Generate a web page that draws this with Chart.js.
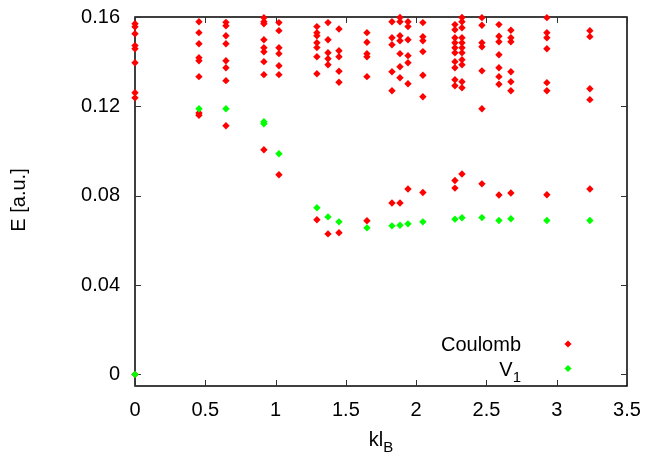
<!DOCTYPE html>
<html>
<head>
<meta charset="utf-8">
<script src="https://cdn.jsdelivr.net/npm/chart.js@4"></script>
<style>
  html, body { margin: 0; padding: 0; background: #fff; }
  #wrap { width: 648px; height: 459px; }
</style>
</head>
<body>
<div id="wrap"><canvas id="spectrum" width="648" height="459"></canvas></div>
<script>
// momenta of the columns (kl_B)
const kColumns = [0, 0.455, 0.647, 0.917, 1.024, 1.294, 1.373, 1.451, 1.650, 1.828,
    1.885, 1.942, 2.048, 2.276, 2.326, 2.468, 2.589, 2.674, 2.930, 3.236];

// Coulomb energies per column
const coulombLevels = [
    [0, 0.1570, 0.1556, 0.1525, 0.1472, 0.1458, 0.1395, 0.1261, 0.1238],
    [0.1579, 0.1530, 0.1480, 0.1418, 0.1404, 0.1333, 0.1170, 0.1160],
    [0.1576, 0.1561, 0.1516, 0.1480, 0.1404, 0.1373, 0.1315, 0.1113],
    [0.1597, 0.1579, 0.1570, 0.1498, 0.1462, 0.1444, 0.1400, 0.1342, 0.1006],
    [0.1575, 0.1539, 0.1462, 0.1436, 0.1382, 0.1342, 0.0894],
    [0.1557, 0.1530, 0.1516, 0.1485, 0.1463, 0.1422, 0.1346, 0.0692],
    [0.1575, 0.1498, 0.1440, 0.1413, 0.1386, 0.0629],
    [0.1546, 0.1449, 0.1422, 0.1357, 0.1308, 0.0634],
    [0.1530, 0.1487, 0.1436, 0.1422, 0.1333, 0.0688],
    [0.1579, 0.1507, 0.1476, 0.1355, 0.1270, 0.0767],
    [0.1598, 0.1579, 0.1516, 0.1494, 0.1436, 0.1377, 0.1328, 0.0767],
    [0.1579, 0.1557, 0.1498, 0.1427, 0.1395, 0.1301, 0.0830],
    [0.1575, 0.1512, 0.1494, 0.1445, 0.1339, 0.1243, 0.0814],
    [0.1566, 0.1543, 0.1507, 0.1485, 0.1462, 0.1440, 0.1400, 0.1373, 0.1319, 0.1292, 0.0868, 0.0834],
    [0.1598, 0.1579, 0.1552, 0.1507, 0.1485, 0.1462, 0.1440, 0.1409, 0.1386, 0.1310, 0.1283, 0.0897],
    [0.1597, 0.1563, 0.1485, 0.1467, 0.1359, 0.1189, 0.0853],
    [0.1566, 0.1514, 0.1489, 0.1431, 0.1373, 0.1333, 0.1299, 0.0803],
    [0.1541, 0.1507, 0.1489, 0.1355, 0.1310, 0.1270, 0.0812],
    [0.1597, 0.1530, 0.1507, 0.1458, 0.1306, 0.1270, 0.0804],
    [0.1539, 0.1512, 0.1279, 0.1230, 0.0830]
];

// V1 energies per column
const v1Levels = [
    [0], [0.1189], [0.1189], [0.1131, 0.1122], [0.0988], [0.0746], [0.0705], [0.0683],
    [0.0656], [0.0665], [0.0668], [0.0674], [0.0683], [0.0695], [0.0701], [0.0702],
    [0.0689], [0.0697], [0.0689], [0.0689]
];

const xTicks = [0, 0.5, 1, 1.5, 2, 2.5, 3, 3.5];
const yTicks = [0, 0.04, 0.08, 0.12, 0.16];

const FONT = '"Liberation Sans", Arial, Helvetica, sans-serif';

function toPoints(levels) {
    const pts = [];
    levels.forEach((col, i) => {
        col.forEach(e => pts.push({ x: kColumns[i], y: e }));
    });
    return pts;
}

// gnuplot-like frame with inward ticks on all four sides
const framePlugin = {
    id: 'frame',
    beforeDatasetsDraw(chart) {
        const { ctx, chartArea: a, scales } = chart;
        ctx.save();
        ctx.strokeStyle = '#000';
        ctx.lineWidth = 1.5;
        ctx.strokeRect(a.left, a.top, a.right - a.left, a.bottom - a.top);
        ctx.lineWidth = 1;
        ctx.strokeStyle = '#333';
        ctx.beginPath();
        xTicks.forEach(v => {
            const px = Math.round(scales.x.getPixelForValue(v)) + 0.5;
            ctx.moveTo(px, a.bottom); ctx.lineTo(px, a.bottom - 6);
            ctx.moveTo(px, a.top); ctx.lineTo(px, a.top + 6);
        });
        yTicks.forEach(v => {
            const py = Math.round(scales.y.getPixelForValue(v)) + 0.5;
            ctx.moveTo(a.left, py); ctx.lineTo(a.left + 6, py);
            ctx.moveTo(a.right, py); ctx.lineTo(a.right - 6, py);
        });
        ctx.stroke();
        ctx.restore();
    }
};

// axis titles with subscripts + legend drawn gnuplot style (text, then sample)
const labelsPlugin = {
    id: 'labels',
    afterDraw(chart) {
        const { ctx } = chart;
        ctx.save();
        ctx.fillStyle = '#000';
        ctx.textBaseline = 'alphabetic';

        // y title
        ctx.save();
        ctx.translate(25, 200);
        ctx.rotate(-Math.PI / 2);
        ctx.textAlign = 'center';
        ctx.font = '20px ' + FONT;
        ctx.fillText('E [a.u.]', 0, 0);
        ctx.restore();

        // x title: kl_B
        ctx.font = '20px ' + FONT;
        ctx.textAlign = 'left';
        const w1 = ctx.measureText('kl').width;
        ctx.font = '15px ' + FONT;
        const w2 = ctx.measureText('B').width;
        const x0 = 381 - (w1 + w2) / 2;
        ctx.font = '20px ' + FONT;
        ctx.fillText('kl', x0, 446);
        ctx.font = '15px ' + FONT;
        ctx.fillText('B', x0 + w1, 452);

        // legend
        const rows = [
            { y: 344, color: chart.data.datasets[1].backgroundColor, main: 'Coulomb', sub: '' },
            { y: 368.5, color: chart.data.datasets[0].backgroundColor, main: 'V', sub: '1' }
        ];
        rows.forEach(r => {
            ctx.font = '15px ' + FONT;
            const ws = r.sub ? ctx.measureText(r.sub).width : 0;
            ctx.font = '20px ' + FONT;
            const wm = ctx.measureText(r.main).width;
            const right = 521;
            ctx.fillText(r.main, right - ws - wm, r.y + 7);
            if (r.sub) {
                ctx.font = '15px ' + FONT;
                ctx.fillText(r.sub, right - ws, r.y + 13);
            }
            ctx.fillStyle = r.color;
            ctx.beginPath();
            ctx.moveTo(568, r.y - 3.6);
            ctx.lineTo(571.6, r.y);
            ctx.lineTo(568, r.y + 3.6);
            ctx.lineTo(564.4, r.y);
            ctx.closePath();
            ctx.fill();
            ctx.fillStyle = '#000';
        });
        ctx.restore();
    }
};

const ctx = document.getElementById('spectrum').getContext('2d');
new Chart(ctx, {
    type: 'scatter',
    data: {
        datasets: [{
            label: 'V1',
            data: toPoints(v1Levels),
            backgroundColor: '#00ff00',
            borderColor: '#00ff00',
            pointStyle: 'rectRot',
            pointRadius: 3.7,
            borderWidth: 0,
            clip: false,
            order: 0
        }, {
            label: 'Coulomb',
            data: toPoints(coulombLevels),
            backgroundColor: '#ff0000',
            borderColor: '#ff0000',
            pointStyle: 'rectRot',
            pointRadius: 3.7,
            borderWidth: 0,
            clip: false,
            order: 1
        }]
    },
    options: {
        responsive: false,
        animation: false,
        layout: { padding: { left: 0, right: 21, top: 17, bottom: 0 } },
        plugins: {
            legend: { display: false },
            tooltip: { enabled: false }
        },
        scales: {
            x: {
                type: 'linear',
                min: 0,
                max: 3.5,
                afterBuildTicks: s => { s.ticks = xTicks.map(v => ({ value: v })); },
                afterFit: s => {
                    s.height = 73;
                    s.paddingLeft = 0;
                    s.paddingRight = 0;
                },
                grid: { display: false, drawTicks: false },
                border: { display: false },
                ticks: {
                    color: '#000',
                    padding: 12,
                    maxRotation: 0,
                    font: { family: FONT, size: 20 },
                    callback: v => String(v)
                }
            },
            y: {
                type: 'linear',
                min: -0.0052,
                max: 0.16,
                afterBuildTicks: s => { s.ticks = yTicks.map(v => ({ value: v })); },
                afterFit: s => {
                    s.width = 135;
                    s.paddingTop = 0;
                    s.paddingBottom = 0;
                },
                grid: { display: false, drawTicks: false },
                border: { display: false },
                ticks: {
                    color: '#000',
                    padding: 15,
                    font: { family: FONT, size: 20 },
                    callback: v => String(v)
                }
            }
        }
    },
    plugins: [framePlugin, labelsPlugin]
});
</script>
</body>
</html>
